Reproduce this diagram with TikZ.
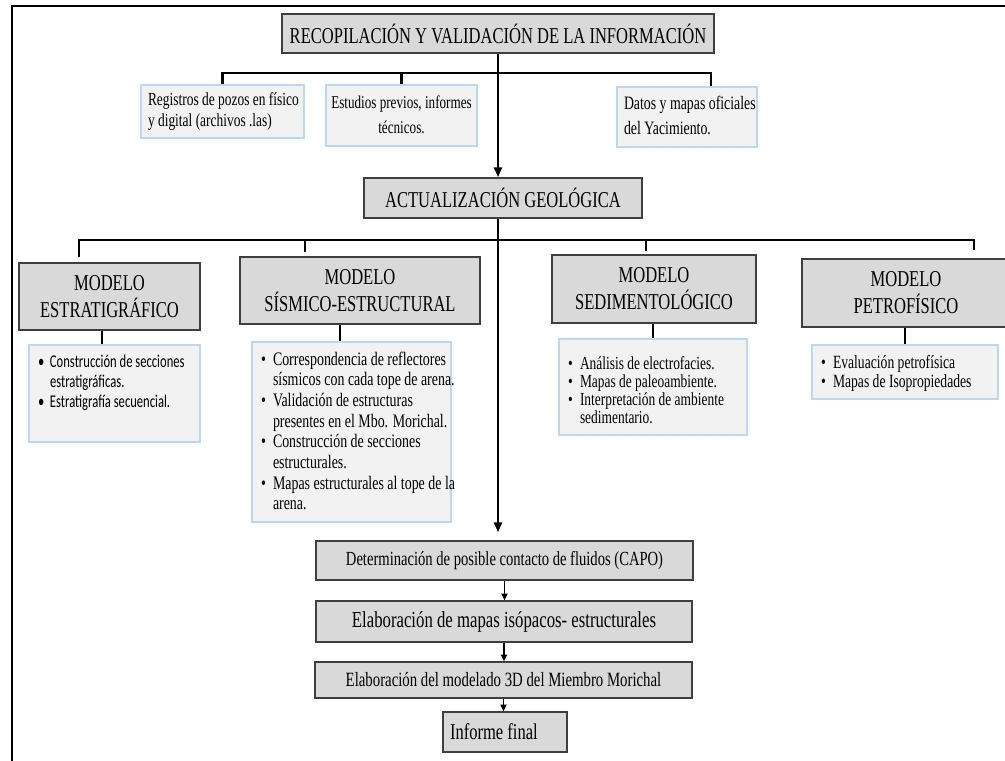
\documentclass[tikz,border=0pt]{standalone}
\usepackage{fontspec}
\setmainfont{Liberation Serif}[FakeStretch=0.73]
\newfontfamily\calfont{Carlito}[FakeStretch=0.70]
\usetikzlibrary{arrows.meta}
\newlength\px \setlength\px{0.75pt}
\definecolor{hdrfill}{HTML}{D9D9D9}
\definecolor{hdrdraw}{HTML}{3F3F3F}
\definecolor{infofill}{HTML}{F2F2F2}
\definecolor{infodraw}{HTML}{BDD7EE}
\newcommand\li[1]{\mbox{\hspace*{9\px}\makebox[12\px][l]{\textbullet}#1}}
\newcommand\lc[1]{\mbox{\hspace*{21\px}#1}}
\tikzset{
  hdr/.style={draw=hdrdraw, fill=hdrfill, line width=1.1pt, inner sep=0pt, align=center, font={\fontsize{17}{20.25}\selectfont}},
  info/.style={draw=infodraw, fill=infofill, line width=0.9pt, inner sep=0pt},
  bar/.style={line width=1.8pt},
  arr/.style={line width=2pt, -{Triangle[length=7.5pt,width=6pt]}},
  sarr/.style={line width=1.3pt, -{Triangle[length=5pt,width=4.5pt]}},
}
\begin{document}
\begin{tikzpicture}[x=0.75pt, y=-0.75pt]
\useasboundingbox (0,0) rectangle (1005,760);
\clip (0,0) rectangle (1005,760);
\fill[white] (0,0) rectangle (1005,760);
% frame
\draw[line width=2.2pt] (12,770) -- (12,6) -- (1015,6);

% top
\node[hdr, minimum width=432\px, minimum height=39\px] (T) at (498,33.5) {RECOPILACIÓN Y VALIDACIÓN DE LA INFORMACIÓN};
\node[info, minimum width=163\px, minimum height=53\px, inner xsep=7\px, font={\fontsize{13.8}{15.75}\selectfont}] (B1) at (222.5,111.5)
  {\makebox[149\px][l]{\begin{tabular}{@{}l@{}}Registros de pozos en físico\\y digital (archivos .las)\end{tabular}}};
\node[info, minimum width=151\px, minimum height=61\px, font={\fontsize{13.5}{18.75}\selectfont}] (B2) at (401.5,115.5)
  {\begin{tabular}{@{}c@{}}Estudios previos, informes\\técnicos.\end{tabular}};
\node[info, minimum width=140\px, minimum height=60\px, inner xsep=7\px, font={\fontsize{14.2}{18.75}\selectfont}] (B3) at (687,117)
  {\makebox[126\px][l]{\begin{tabular}{@{}l@{}}Datos y mapas oficiales\\del Yacimiento.\end{tabular}}};

\node[hdr, minimum width=278\px, minimum height=40\px] (Act) at (503,198) {ACTUALIZACIÓN GEOLÓGICA};

% models
\node[hdr, minimum width=181\px, minimum height=67\px] (M1) at (109.5,296.5) {MODELO\\ESTRATIGRÁFICO};
\node[hdr, minimum width=240\px, minimum height=67\px] (M2) at (360,290.5) {MODELO\\SÍSMICO-ESTRUCTURAL};
\node[hdr, minimum width=204\px, minimum height=68\px] (M3) at (654,289) {MODELO\\SEDIMENTOLÓGICO};
\node[hdr, minimum width=208\px, minimum height=68\px] (M4) at (906,293) {MODELO\\PETROFÍSICO};

% lists
\node[info] (L1) at (114.5,393.5) {\parbox[c][97\px][t]{171\px}{\calfont\fontsize{13.5}{15}\selectfont
  \rule{0pt}{22\px}\li{Construcción de secciones}\\
  \lc{estratigráficas.}\\
  \li{Estratigrafía secuencial.}}};
\node[info] (L2) at (351.5,432) {\parbox[c][180\px][t]{199\px}{\fontsize{14.3}{15.5}\selectfont
  \rule{0pt}{23\px}\li{Correspondencia de reflectores}\\
  \lc{sísmicos con cada tope de arena.}\\
  \li{Validación de estructuras}\\
  \lc{presentes en el Mbo. Morichal.}\\
  \li{Construcción de secciones}\\
  \lc{estructurales.}\\
  \li{Mapas estructurales al tope de la}\\
  \lc{arena.}}};
\node[info] (L3) at (653,387) {\parbox[c][96\px][t]{188\px}{\fontsize{13.8}{13.5}\selectfont
  \rule{0pt}{30\px}\li{Análisis de electrofacies.}\\
  \li{Mapas de paleoambiente.}\\
  \li{Interpretación de ambiente}\\
  \lc{sedimentario.}}};
\node[info] (L4) at (905,372) {\parbox[c][54\px][t]{186\px}{\fontsize{14}{14.25}\selectfont
  \rule{0pt}{23\px}\li{Evaluación petrofísica}\\
  \li{Mapas de Isopropiedades}}};

% bottom chain
\node[hdr, minimum width=377\px, minimum height=39\px, font={\fontsize{15}{18}\selectfont}] (A) at (504.5,560.5) {Determinación de posible contacto de fluidos (CAPO)};
\node[hdr, minimum width=376\px, minimum height=41\px, font={\fontsize{17.2}{19}\selectfont}] (Bp) at (504,621.5) {Elaboración de mapas isópacos- estructurales};
\node[hdr, minimum width=377\px, minimum height=36\px, font={\fontsize{15.2}{18}\selectfont}] (C) at (503.5,680) {Elaboración del modelado 3D del Miembro Morichal};
\node[hdr, minimum width=124\px, minimum height=40\px, inner xsep=7\px, font={\fontsize{17}{19}\selectfont}] (D) at (505,732) {\makebox[110\px][l]{Informe final}};

% connectors top
\coordinate (j1) at (498,73);
\coordinate (j1r) at (711,73);
\draw[bar] (B1.north) |- (j1r) -- (j1r |- B3.north);
\draw[bar] (B2.north) -- (B2.north |- j1);
\draw[arr] (T.south) -- (T.south |- Act.north);

% second level
\coordinate (k1) at (79,240);
\coordinate (k2) at (305,240);
\coordinate (k3) at (646,240);
\coordinate (k4) at (974,240);
\draw[bar, shorten <=5\px, shorten >=8\px] (k1 |- M1.north) -- (k1) -- (k4) -- (k4 |- M4.north);
\draw[bar, shorten >=4\px] (k2) -- (k2 |- M2.north);
\draw[bar, shorten >=3\px] (k3) -- (k3 |- M3.north);
\draw[arr, shorten >=8\px] (Act.south -| T.south) -- (A.north -| T.south);

% models to lists
\draw[bar] ([xshift=-7.5\px]M1.south) -- ([xshift=-7.5\px]M1.south |- L1.north);
\draw[bar] ([xshift=-20\px]M2.south) -- ([xshift=-20\px]M2.south |- L2.north);
\draw[bar] ([xshift=-1\px]M3.south) -- ([xshift=-1\px]M3.south |- L3.north);
\draw[bar] ([xshift=-1\px]M4.south) -- ([xshift=-1\px]M4.south |- L4.north);

% bottom arrows
\draw[sarr] (A.south) -- (A.south |- Bp.north);
\draw[sarr] (Bp.south) -- (Bp.south |- C.north);
\draw[sarr] (C.south) -- (C.south |- D.north);
\end{tikzpicture}
\end{document}
